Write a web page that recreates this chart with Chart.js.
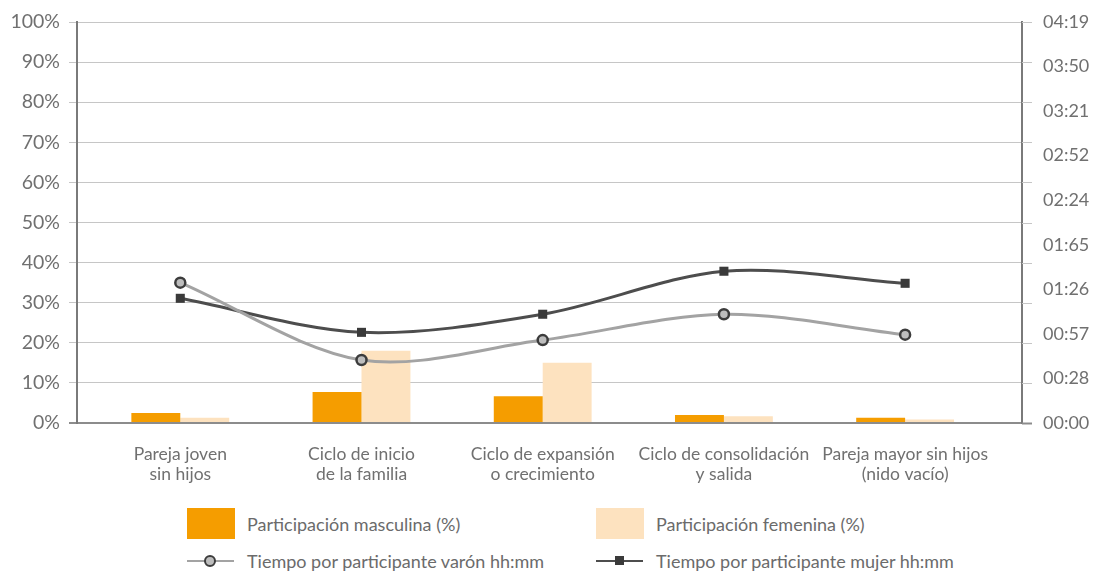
<!DOCTYPE html>
<html lang="es">
<head>
<meta charset="utf-8">
<title>Participación y tiempo por ciclo de vida familiar</title>
<script src="https://cdn.jsdelivr.net/npm/chart.js@4/dist/chart.umd.min.js"></script>
<style>
  body { margin: 0; background: #fff; font-family: Lato, 'Noto Sans', sans-serif; }
  #wrap { position: relative; width: 1094px; height: 571px; }
  #chartBox { position: absolute; left: 0; top: 0; width: 1094px; height: 490px; }
  .key { position: absolute; display: flex; align-items: center; color: #6b6b6b; font-size: 18px; white-space: nowrap; }
  .swatch { width: 48px; height: 31px; margin-right: 12px; }
  .line-key { position: relative; width: 47px; height: 14px; margin-right: 13px; }
  .line-key .stroke { position: absolute; left: 0; right: 0; top: 6px; height: 2px; }
  .line-key .dot { position: absolute; left: 17px; top: 1px; width: 8px; height: 8px; border-radius: 50%; border: 2px solid #3c3c3c; }
  .line-key .sq { position: absolute; left: 19px; top: 2px; width: 9px; height: 9px; }
</style>
</head>
<body>
<div id="wrap">
  <div id="chartBox"><canvas id="chart"></canvas></div>
  <div id="legend"></div>
</div>
<script>
// Etapas del ciclo de vida familiar
const categories = [
  ['Pareja joven', 'sin hijos'],
  ['Ciclo de inicio', 'de la familia'],
  ['Ciclo de expansión', 'o crecimiento'],
  ['Ciclo de consolidación', 'y salida'],
  ['Pareja mayor sin hijos', '(nido vacío)']
];

// Participación (%)
const partMasculina = [2.5, 7.7, 6.7, 2.0, 1.3];
const partFemenina = [1.3, 18.0, 15.0, 1.7, 0.9];

// Tiempo por participante, en minutos
const tiempoVaron = [90.7, 40.7, 53.6, 70.3, 57.1];
const tiempoMujer = [80.6, 58.6, 70.3, 98.1, 90.3];

// Eje derecho (hh:mm)
const rightTicks = ['00:00', '00:28', '00:57', '01:26', '01:65', '02:24', '02:52', '03:21', '03:50', '04:19'];
const RIGHT_MAX = 259.2;

const X_MIN = -0.57;
const X_MAX = 4.645;

const TEXT = '#707070';
const FONT = "Lato, 'Noto Sans', sans-serif";

const toPoints = arr => arr.map((v, i) => ({ x: i, y: v }));

const gridColor = ctx => (ctx.tick && ctx.tick.value === 0 ? '#8c8c8c' : '#c6c6c6');
const gridWidth = ctx => (ctx.tick && ctx.tick.value === 0 ? 2 : 1);

// los ejes verticales no reservan margen extra arriba/abajo
const noVerticalPadding = axis => {
  axis.paddingTop = 0;
  axis.paddingBottom = 0;
};

// prolonga las líneas de la cuadrícula un poco más allá del eje derecho
const gridExtension = {
  id: 'gridExtension',
  beforeDatasetsDraw(chart) {
    const { ctx, chartArea, scales } = chart;
    const y = scales.y;
    ctx.save();
    y.ticks.forEach(t => {
      const py = Math.round(y.getPixelForValue(t.value)) + 0.5;
      ctx.strokeStyle = t.value === 0 ? '#8c8c8c' : '#c6c6c6';
      ctx.lineWidth = t.value === 0 ? 2 : 1;
      ctx.beginPath();
      ctx.moveTo(chartArea.right, py);
      ctx.lineTo(chartArea.right + 10, py);
      ctx.stroke();
    });
    ctx.restore();
  }
};

const datasets = [
  {
    type: 'line',
    label: 'Tiempo por participante varón hh:mm',
    data: toPoints(tiempoVaron),
    yAxisID: 'y1',
    borderColor: '#a3a3a3',
    borderWidth: 3,
    tension: 0.32,
    pointStyle: 'circle',
    pointRadius: 5,
    pointBackgroundColor: '#bdbdbd',
    pointBorderColor: '#3c3c3c',
    pointBorderWidth: 2.5,
    order: 0
  },
  {
    type: 'line',
    label: 'Tiempo por participante mujer hh:mm',
    data: toPoints(tiempoMujer),
    yAxisID: 'y1',
    borderColor: '#4d4d4d',
    borderWidth: 3,
    tension: 0.32,
    pointStyle: 'rect',
    pointRadius: 6.4,
    pointBackgroundColor: '#3a3a3a',
    pointBorderWidth: 0,
    order: 0
  },
  {
    type: 'bar',
    label: 'Participación masculina (%)',
    data: toPoints(partMasculina),
    yAxisID: 'y',
    backgroundColor: '#f59d00',
    categoryPercentage: 0.54,
    barPercentage: 1,
    order: 1
  },
  {
    type: 'bar',
    label: 'Participación femenina (%)',
    data: toPoints(partFemenina),
    yAxisID: 'y',
    backgroundColor: '#fde2bf',
    categoryPercentage: 0.54,
    barPercentage: 1,
    order: 1
  }
];

new Chart(document.getElementById('chart'), {
  type: 'bar',
  data: { datasets },
  plugins: [gridExtension],
  options: {
    responsive: true,
    maintainAspectRatio: false,
    animation: false,
    layout: { padding: { top: 22, bottom: 0, left: 0, right: 0 } },
    plugins: { legend: { display: false }, tooltip: { enabled: false } },
    scales: {
      x: {
        type: 'linear',
        offset: false,
        min: X_MIN,
        max: X_MAX,
        afterBuildTicks: axis => { axis.ticks = categories.map((_, i) => ({ value: i })); },
        afterFit: axis => { axis.height = 67; },
        grid: { display: false },
        border: { display: false },
        ticks: {
          callback: (v, i) => categories[i],
          color: TEXT,
          font: { family: FONT, size: 17.5, lineHeight: 1.1 },
          padding: 14,
          maxRotation: 0,
          autoSkip: false
        }
      },
      y: {
        position: 'left',
        min: 0,
        max: 100,
        afterFit: axis => { axis.width = 77; noVerticalPadding(axis); },
        ticks: { stepSize: 10, callback: v => v + '%', color: TEXT, font: { family: FONT, size: 19.5 }, padding: 9 },
        grid: { color: gridColor, lineWidth: gridWidth, tickLength: 8 },
        border: { color: '#7a7a7a', width: 2 }
      },
      y1: {
        position: 'right',
        min: 0,
        max: RIGHT_MAX,
        afterBuildTicks: axis => { axis.ticks = rightTicks.map((_, i) => ({ value: RIGHT_MAX * i / (rightTicks.length - 1) })); },
        afterFit: axis => { axis.width = 72; noVerticalPadding(axis); },
        ticks: { callback: (v, i) => rightTicks[i], color: TEXT, font: { family: FONT, size: 18 }, padding: 21 },
        grid: { drawOnChartArea: false, drawTicks: false },
        border: { color: '#7a7a7a', width: 2 }
      }
    }
  }
});

// leyenda en dos columnas
const legendItems = [
  { ds: datasets[2], kind: 'box', left: 187, top: 508 },
  { ds: datasets[3], kind: 'box', left: 596, top: 508 },
  { ds: datasets[0], kind: 'circle', left: 187, top: 550 },
  { ds: datasets[1], kind: 'square', left: 596, top: 550 }
];
const legend = document.getElementById('legend');
legendItems.forEach(item => {
  const el = document.createElement('div');
  el.className = 'key';
  el.style.left = item.left + 'px';
  el.style.top = item.top + 'px';
  let mark;
  if (item.kind === 'box') {
    mark = document.createElement('div');
    mark.className = 'swatch';
    mark.style.background = item.ds.backgroundColor;
  } else {
    mark = document.createElement('div');
    mark.className = 'line-key';
    const stroke = document.createElement('div');
    stroke.className = 'stroke';
    stroke.style.background = item.ds.borderColor;
    mark.appendChild(stroke);
    const pt = document.createElement('div');
    pt.className = item.kind === 'circle' ? 'dot' : 'sq';
    pt.style.background = item.ds.pointBackgroundColor;
    mark.appendChild(pt);
  }
  const txt = document.createElement('span');
  txt.textContent = item.ds.label;
  el.appendChild(mark);
  el.appendChild(txt);
  legend.appendChild(el);
});
</script>
</body>
</html>
